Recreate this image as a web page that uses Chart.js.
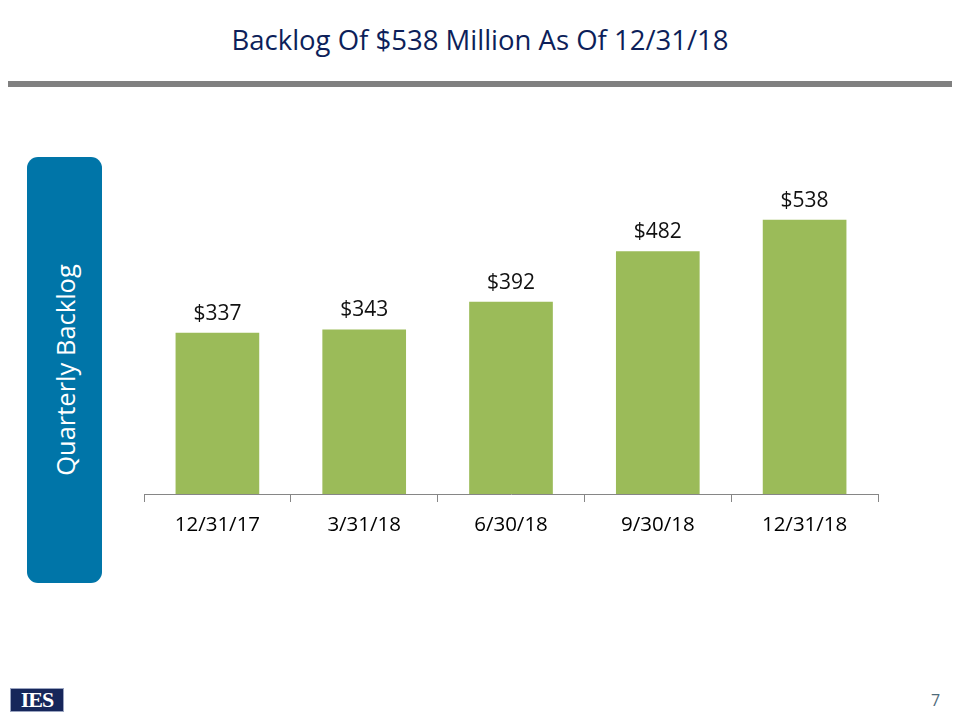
<!DOCTYPE html>
<html>
<head>
<meta charset="utf-8">
<script src="https://cdn.jsdelivr.net/npm/chart.js@4.4.1/dist/chart.umd.min.js"></script>
<style>
  html, body { margin: 0; padding: 0; background: #fff; }
  body { width: 960px; height: 720px; position: relative; overflow: hidden; font-family: 'Open Sans', sans-serif; }
  #title { position: absolute; left: 0; top: 21px; width: 960px; text-align: center; font-size: 27.5px; color: #0d1f5a; }
  #rule { position: absolute; left: 8px; top: 81px; width: 944px; height: 6px; background: #808080; }
  #side { position: absolute; left: 27px; top: 157px; width: 75px; height: 426px; background: #0075a8; border-radius: 11px; }
  #side span { position: absolute; left: 50%; top: 50%; transform: translate(-50%, -50%) rotate(-90deg); white-space: nowrap; color: #fff; font-size: 25.5px; }
  #logo { position: absolute; left: 10px; top: 688px; width: 54px; height: 24px; background: #16265a; border: 1px solid #9aa4c0; box-sizing: border-box; color: #fff; font-family: 'Liberation Serif', serif; font-weight: bold; font-size: 22px; line-height: 22px; text-align: center; letter-spacing: -1px; }
  #page { position: absolute; left: 931px; top: 689px; font-size: 16px; color: #4f6b7a; }
  #wrap { position: absolute; left: 134px; top: 140px; width: 754px; height: 420px; }
</style>
</head>
<body>
<div id="title">Backlog Of $538 Million As Of 12/31/18</div>
<div id="rule"></div>
<div id="side"><span>Quarterly Backlog</span></div>
<div id="logo">IES</div>
<div id="page">7</div>
<div id="wrap"><canvas id="chart"></canvas></div>
<script>
// quarter-end dates and backlog ($ millions)
const quarters = ['12/31/17', '3/31/18', '6/30/18', '9/30/18', '12/31/18'];
const backlog = [337, 343, 392, 482, 538];

const barLabels = {
    id: 'barLabels',
    afterDatasetsDraw(chart) {
        const ctx = chart.ctx;
        const meta = chart.getDatasetMeta(0);
        ctx.save();
        ctx.font = '21px "Open Sans"';
        ctx.fillStyle = '#111';
        ctx.textAlign = 'center';
        ctx.textBaseline = 'alphabetic';
        meta.data.forEach((bar, i) => {
            ctx.fillText('$' + chart.data.datasets[0].data[i], bar.x, bar.y - 13);
        });
        ctx.restore();
    }
};

new Chart(document.getElementById('chart').getContext('2d'), {
    type: 'bar',
    data: {
        labels: quarters,
        datasets: [{
            data: backlog,
            backgroundColor: '#9bbb59',
            borderWidth: 0,
            categoryPercentage: 1,
            barPercentage: 0.57
        }]
    },
    options: {
        responsive: true,
        maintainAspectRatio: false,
        animation: false,
        layout: { padding: { top: 45, bottom: 6, left: 10, right: 10 } },
        scales: {
            y: { display: false, min: 50, max: 600 },
            x: {
                afterFit: (s) => { s.height = 60; },
                border: { display: true, color: '#868686', width: 1 },
                grid: { display: true, drawOnChartArea: false, drawTicks: true, tickLength: 8, color: '#868686', offset: true },
                ticks: { color: '#000', font: { family: 'Open Sans', size: 20.5 }, padding: 11 }
            }
        },
        plugins: {
            legend: { display: false },
            tooltip: { enabled: false }
        }
    },
    plugins: [barLabels]
});
</script>
</body>
</html>
